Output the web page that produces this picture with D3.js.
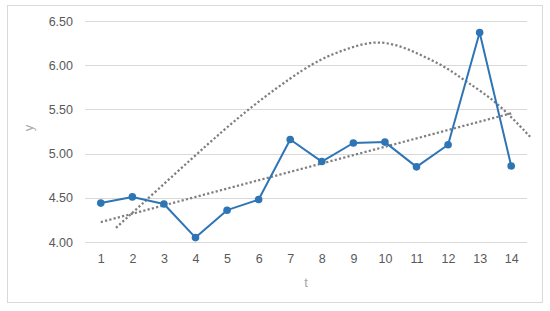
<!DOCTYPE html>
<html>
<head>
<meta charset="utf-8">
<script src="https://cdn.jsdelivr.net/npm/d3@7"></script>
<style>
  body { margin: 0; background: #fff; }
  svg { font-family: "Liberation Sans", Arial, sans-serif; }
</style>
</head>
<body>
<svg id="chart" width="550" height="311"></svg>
<script>
// categories on the x axis (t)
const tLabels = ["1","2","3","4","5","6","7","8","9","10","11","12","13","14"];
const tValues = [1,2,3,4,5,6,7,8,9,10,11,12,13,14];

// observed y series
const yValues = [4.44, 4.51, 4.43, 4.05, 4.36, 4.48, 5.16, 4.91, 5.12, 5.13, 4.85, 5.10, 6.37, 4.86];

// y axis ticks
const yTicks = [4.00, 4.50, 5.00, 5.50, 6.00, 6.50];

// curved trendline (t, y)
const curveT = [1.48, 4.05, 5.63, 7.56, 8.37, 9.0, 9.75, 10.58, 11.22, 11.93, 12.59, 13.54, 14.6];
const curveY = [4.16, 5.00, 5.50, 6.00, 6.13, 6.21, 6.28, 6.21, 6.10, 5.98, 5.81, 5.59, 5.19];

const svg = d3.select("#chart");

// outer frame
svg.append("rect")
  .attr("x", 7.5).attr("y", 5.5)
  .attr("width", 535).attr("height", 297)
  .attr("fill", "#fff")
  .attr("stroke", "#d9d9d9");

const x = d3.scaleLinear().domain([0.5, 14.5]).range([85, 527]);
const y = d3.scaleLinear().domain([4, 6.5]).range([242, 21]);

// gridlines
svg.append("g")
  .selectAll("line")
  .data(yTicks)
  .enter().append("line")
    .attr("x1", x(0.5)).attr("x2", x(14.5))
    .attr("y1", d => Math.round(y(d)) + 0.5)
    .attr("y2", d => Math.round(y(d)) + 0.5)
    .attr("stroke", "#d9d9d9")
    .attr("stroke-width", 1);

// y axis labels
const yAxis = d3.axisLeft(y).tickValues(yTicks).tickFormat(d3.format(".2f")).tickSize(0).tickPadding(12);
svg.append("g")
  .attr("transform", "translate(" + x(0.5) + ",0)")
  .call(yAxis)
  .call(g => g.select(".domain").remove())
  .call(g => g.selectAll("text").attr("fill", "#595959").attr("font-size", 12.5));

// x axis labels
const xAxis = d3.axisBottom(x).tickValues(tValues).tickFormat((d, i) => tLabels[i]).tickSize(0).tickPadding(12);
svg.append("g")
  .attr("transform", "translate(0," + y(4) + ")")
  .call(xAxis)
  .call(g => g.select(".domain").remove())
  .call(g => g.selectAll("text").attr("fill", "#595959").attr("font-size", 12.5));

// axis titles
svg.append("text")
  .attr("x", 306).attr("y", 287)
  .attr("text-anchor", "middle")
  .attr("fill", "#a6a6a6")
  .attr("font-size", 13)
  .text("t");

svg.append("text")
  .attr("transform", "translate(33,128) rotate(-90)")
  .attr("text-anchor", "middle")
  .attr("fill", "#a6a6a6")
  .attr("font-size", 13)
  .text("y");

// linear trendline (least squares on the series)
const n = tValues.length;
const meanT = d3.mean(tValues), meanY = d3.mean(yValues);
let sxy = 0, sxx = 0;
for (let i = 0; i < n; i++) {
  sxy += (tValues[i] - meanT) * (yValues[i] - meanY);
  sxx += (tValues[i] - meanT) * (tValues[i] - meanT);
}
const slope = sxy / sxx;
const icept = meanY - slope * meanT;
const linPts = [tValues[0], tValues[n - 1]].map(t => [t, icept + slope * t]);

const dotStyle = sel => sel
  .attr("fill", "none")
  .attr("stroke", "#7f7f7f")
  .attr("stroke-width", 2.25)
  .attr("stroke-dasharray", "2.2,2.2");

svg.append("path")
  .datum(linPts)
  .attr("d", d3.line().x(d => x(d[0])).y(d => y(d[1])))
  .call(dotStyle);

// curved trendline
const curvePts = curveT.map((t, i) => [t, curveY[i]]);
svg.append("path")
  .datum(curvePts)
  .attr("d", d3.line().curve(d3.curveBasis).x(d => x(d[0])).y(d => y(d[1])))
  .call(dotStyle);

// main series
const series = tValues.map((t, i) => [t, yValues[i]]);
svg.append("path")
  .datum(series)
  .attr("d", d3.line().x(d => x(d[0])).y(d => y(d[1])))
  .attr("fill", "none")
  .attr("stroke", "#2e75b6")
  .attr("stroke-width", 2)
  .attr("stroke-linejoin", "round");

svg.append("g")
  .selectAll("circle")
  .data(series)
  .enter().append("circle")
    .attr("cx", d => x(d[0]))
    .attr("cy", d => y(d[1]))
    .attr("r", 3.8)
    .attr("fill", "#2e75b6");
</script>
</body>
</html>
